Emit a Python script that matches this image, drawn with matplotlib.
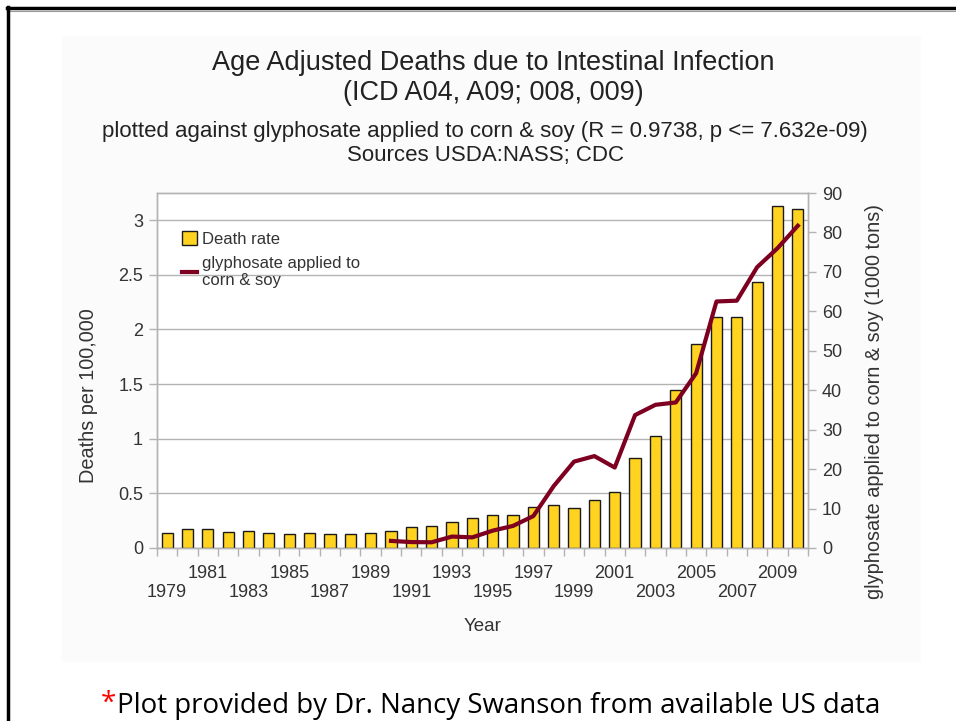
import matplotlib
matplotlib.use("Agg")
import matplotlib.pyplot as plt
from matplotlib.patches import Rectangle
from matplotlib.lines import Line2D
import numpy as np

plt.rcParams['font.family'] = ['Liberation Sans', 'DejaVu Sans']

years = list(range(1979, 2011))
death_rate = [0.14, 0.175, 0.175, 0.15, 0.16, 0.137, 0.125, 0.137, 0.125, 0.125,
              0.137, 0.16, 0.19, 0.20, 0.238, 0.277, 0.30, 0.30, 0.378, 0.39,
              0.366, 0.44, 0.515, 0.82, 1.02, 1.445, 1.866, 2.117, 2.117, 2.437,
              3.13, 3.10]
gly_years = list(range(1990, 2011))
glyphosate = [1.8, 1.5, 1.45, 2.9, 2.7, 4.4, 5.6, 8.1, 15.7, 21.9, 23.3, 20.4,
              33.7, 36.3, 36.9, 44.3, 62.5, 62.7, 71.2, 76.0, 81.7]

title1 = "Age Adjusted Deaths due to Intestinal Infection"
title2 = "(ICD A04, A09; 008, 009)"
sub1 = "plotted against glyphosate applied to corn & soy (R = 0.9738, p <= 7.632e-09)"
sub2 = "Sources USDA:NASS; CDC"
footer = "Plot provided by Dr. Nancy Swanson from available US data"

W, H = 956, 721
fig = plt.figure(figsize=(W / 100, H / 100), dpi=100)
fig.patch.set_facecolor('white')

# faint chart background
fig.patches.append(Rectangle((62 / W, 1 - 662 / H), (921 - 62) / W, (662 - 36) / H,
                             transform=fig.transFigure, facecolor='#fbfbfb',
                             edgecolor='none', zorder=-5))
# slide frame lines
fig.lines.append(Line2D([7 / W, 1], [1 - 8 / H, 1 - 8 / H], transform=fig.transFigure,
                        color='black', lw=2.5, zorder=-4))
fig.lines.append(Line2D([7 / W, 1], [1 - 10.5 / H, 1 - 10.5 / H], transform=fig.transFigure,
                        color='#999999', lw=0.8, zorder=-4))
fig.lines.append(Line2D([8 / W, 8 / W], [0, 1 - 7 / H], transform=fig.transFigure,
                        color='black', lw=2.5, zorder=-4))

L, R, T, B = 157, 808, 193, 548
ax = fig.add_axes([L / W, 1 - B / H, (R - L) / W, (B - T) / H], zorder=1)
ax.set_facecolor('white')
x = np.arange(len(years))
bar_col = '#ffd320'
ax.bar(x, death_rate, width=0.55, color=bar_col, edgecolor='#1a1a1a', linewidth=1.0, zorder=3)
ax.set_xlim(-0.5, len(years) - 0.5)
ax.set_ylim(0, 3.247)
ax.set_yticks(np.arange(0, 3.01, 0.5))
ax.set_yticklabels(['0', '0.5', '1', '1.5', '2', '2.5', '3'])
ax.yaxis.grid(True, color='#b3b3b3', lw=1.0, zorder=0)
ax.set_axisbelow(True)

grey = '#b3b3b3'
txtc = '#333333'
fs = 13
for s in ax.spines.values():
    s.set_color(grey)
    s.set_linewidth(1.0)

# x labels: every other year, alternating rows
lab_idx = list(range(0, len(years) - 1, 2))
labels = []
for i in lab_idx:
    yr = years[i]
    labels.append(str(yr) if ((yr - 1981) % 4 == 0) else "\n" + str(yr))
ax.set_xticks(lab_idx)
ax.set_xticklabels(labels, fontsize=fs, color=txtc, linespacing=1.2)
ax.tick_params(axis='x', which='major', length=0, pad=12)
ax.set_xticks(np.arange(-0.5, len(years), 1.0), minor=True)
ax.tick_params(axis='x', which='minor', length=6, color=grey, width=1.0)
ax.tick_params(axis='y', length=6, color=grey, width=1.0, labelsize=fs,
               labelcolor=txtc, pad=4)
ax.set_xlabel("Year", fontsize=13.5, color=txtc, labelpad=12)
ax.set_ylabel("Deaths per 100,000", fontsize=14.3, color=txtc)
ax.yaxis.set_label_coords(-0.0906, 0.428)

ax2 = ax.twinx()
gx = [years.index(y) for y in gly_years]
ax2.plot(gx, glyphosate, color='#7e0021', lw=3.0, zorder=4, solid_joinstyle='round')
ax2.set_ylim(0, 90)
ax2.set_yticks(np.arange(0, 91, 10))
ax2.tick_params(axis='y', length=6, color=grey, width=1.0, labelsize=fs,
                labelcolor=txtc, pad=4)
for s in ax2.spines.values():
    s.set_color(grey)
    s.set_linewidth(1.0)
ax2.set_ylabel("glyphosate applied to corn & soy (1000 tons)", fontsize=14.3,
               color=txtc)
ax2.yaxis.set_label_coords(1.087, 0.414)

handles = [Rectangle((0, 0), 1, 1, facecolor=bar_col, edgecolor='#1a1a1a', lw=1.0),
           Line2D([0], [0], color='#7e0021', lw=3.0)]
leg = ax2.legend(handles, ["Death rate", "glyphosate applied to\ncorn & soy"],
                 loc='upper left', bbox_to_anchor=(0.028, 0.912), frameon=False,
                 fontsize=12, handlelength=0.9, handleheight=0.9, handletextpad=0.3,
                 labelspacing=0.55, borderaxespad=0)
for t in leg.get_texts():
    t.set_color(txtc)

tc = '#222222'
fig.text(493 / W, 1 - 63 / H, title1, ha='center', va='center', fontsize=19.5, color=tc)
fig.text(493 / W, 1 - 93 / H, title2, ha='center', va='center', fontsize=19.5, color=tc)
fig.text(485 / W, 1 - 131 / H, sub1, ha='center', va='center', fontsize=16, color=tc)
fig.text(485 / W, 1 - 155 / H, sub2, ha='center', va='center', fontsize=16, color=tc)

fig.text(101 / W, 1 - 704 / H, "*", ha='left', va='center', fontsize=20, color='#ff0000',
         family=['Open Sans', 'DejaVu Sans'])
fig.text(117 / W, 1 - 706 / H, footer, ha='left', va='center', fontsize=19.9, color='black',
         family=['Open Sans', 'DejaVu Sans'])

fig.savefig("out.png", dpi=100)
